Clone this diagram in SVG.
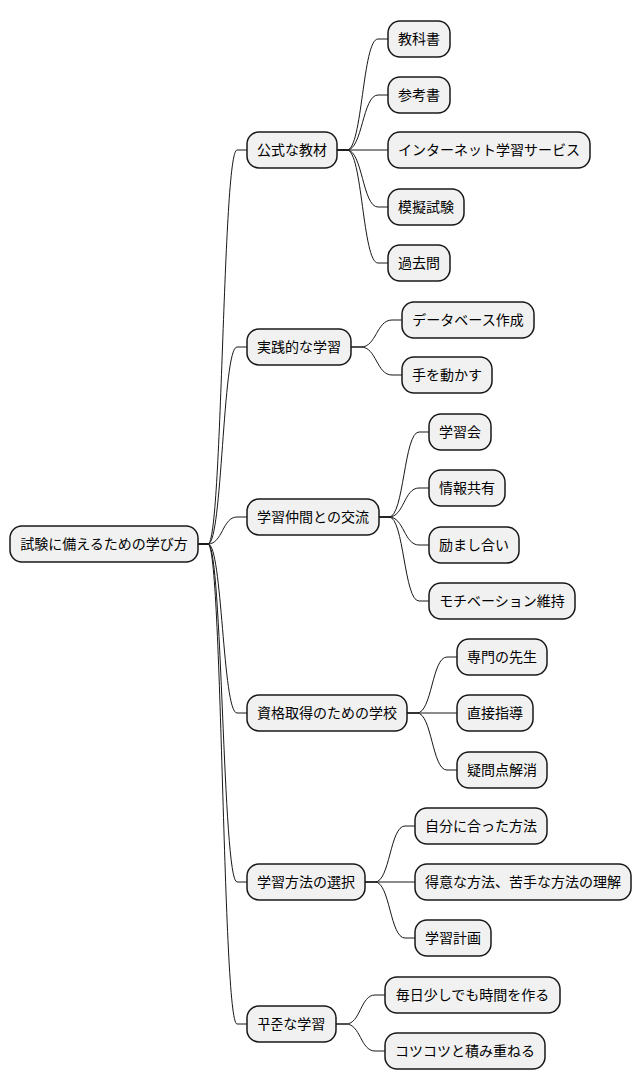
<svg xmlns="http://www.w3.org/2000/svg" width="642" height="1090" viewBox="0 0 642 1090">
<style>
.n rect{fill:#F1F1F1;stroke:#181818;stroke-width:1.5}
.n text{font-family:"Noto Sans CJK JP","Noto Sans CJK KR",sans-serif;font-size:14px;fill:#000;text-anchor:middle}
#connectors path{fill:none;stroke:#181818;stroke-width:1}
</style>
<rect width="642" height="1090" fill="#FFFFFF"/>
<g id="connectors">
<path d="M198,544 L208,544 C222.5,544 222.5,150 237,150 L247,150"/>
<path d="M198,544 L208,544 C222.5,544 222.5,347 237,347 L247,347"/>
<path d="M198,544 L208,544 C222.5,544 222.5,517 237,517 L247,517"/>
<path d="M198,544 L208,544 C222.5,544 222.5,713 237,713 L247,713"/>
<path d="M198,544 L208,544 C222.5,544 222.5,882 237,882 L247,882"/>
<path d="M198,544 L208,544 C222.5,544 222.5,1024 237,1024 L247,1024"/>
<path d="M337,150 L347,150 C362.5,150 362.5,39 378,39 L388,39"/>
<path d="M337,150 L347,150 C362.5,150 362.5,95 378,95 L388,95"/>
<path d="M337,150 L388,150"/>
<path d="M337,150 L347,150 C362.5,150 362.5,207 378,207 L388,207"/>
<path d="M337,150 L347,150 C362.5,150 362.5,263 378,263 L388,263"/>
<path d="M351,347 L361,347 C376.5,347 376.5,320 392,320 L402,320"/>
<path d="M351,347 L361,347 C376.5,347 376.5,375 392,375 L402,375"/>
<path d="M379,517 L389,517 C404,517 404,432 419,432 L429,432"/>
<path d="M379,517 L389,517 C404,517 404,488 419,488 L429,488"/>
<path d="M379,517 L389,517 C404,517 404,545 419,545 L429,545"/>
<path d="M379,517 L389,517 C404,517 404,601 419,601 L429,601"/>
<path d="M407,713 L417,713 C432,713 432,657 447,657 L457,657"/>
<path d="M407,713 L457,713"/>
<path d="M407,713 L417,713 C432,713 432,770 447,770 L457,770"/>
<path d="M365,882 L375,882 C390,882 390,826 405,826 L415,826"/>
<path d="M365,882 L415,882"/>
<path d="M365,882 L375,882 C390,882 390,938 405,938 L415,938"/>
<path d="M336,1024 L346,1024 C360.5,1024 360.5,995 375,995 L385,995"/>
<path d="M336,1024 L346,1024 C360.5,1024 360.5,1051 375,1051 L385,1051"/>
</g>
<g id="root" class="n"><rect x="10" y="526" width="188" height="36" rx="12"/><text x="104" y="549">試験に備えるための学び方</text></g>
<g id="n1" class="n"><rect x="247" y="132" width="90" height="36" rx="12"/><text x="292" y="155">公式な教材</text></g>
<g id="n1a" class="n"><rect x="388" y="21" width="62" height="36" rx="12"/><text x="419" y="44">教科書</text></g>
<g id="n1b" class="n"><rect x="388" y="77" width="62" height="36" rx="12"/><text x="419" y="100">参考書</text></g>
<g id="n1c" class="n"><rect x="388" y="132" width="202" height="36" rx="12"/><text x="489" y="155">インターネット学習サービス</text></g>
<g id="n1d" class="n"><rect x="388" y="189" width="76" height="36" rx="12"/><text x="426" y="212">模擬試験</text></g>
<g id="n1e" class="n"><rect x="388" y="245" width="62" height="36" rx="12"/><text x="419" y="268">過去問</text></g>
<g id="n2" class="n"><rect x="247" y="329" width="104" height="36" rx="12"/><text x="299" y="352">実践的な学習</text></g>
<g id="n2a" class="n"><rect x="402" y="302" width="132" height="36" rx="12"/><text x="468" y="325">データベース作成</text></g>
<g id="n2b" class="n"><rect x="402" y="357" width="90" height="36" rx="12"/><text x="447" y="380">手を動かす</text></g>
<g id="n3" class="n"><rect x="247" y="499" width="132" height="36" rx="12"/><text x="313" y="522">学習仲間との交流</text></g>
<g id="n3a" class="n"><rect x="429" y="414" width="62" height="36" rx="12"/><text x="460" y="437">学習会</text></g>
<g id="n3b" class="n"><rect x="429" y="470" width="76" height="36" rx="12"/><text x="467" y="493">情報共有</text></g>
<g id="n3c" class="n"><rect x="429" y="527" width="90" height="36" rx="12"/><text x="474" y="550">励まし合い</text></g>
<g id="n3d" class="n"><rect x="429" y="583" width="146" height="36" rx="12"/><text x="502" y="606">モチベーション維持</text></g>
<g id="n4" class="n"><rect x="247" y="695" width="160" height="36" rx="12"/><text x="327" y="718">資格取得のための学校</text></g>
<g id="n4a" class="n"><rect x="457" y="639" width="90" height="36" rx="12"/><text x="502" y="662">専門の先生</text></g>
<g id="n4b" class="n"><rect x="457" y="695" width="76" height="36" rx="12"/><text x="495" y="718">直接指導</text></g>
<g id="n4c" class="n"><rect x="457" y="752" width="90" height="36" rx="12"/><text x="502" y="775">疑問点解消</text></g>
<g id="n5" class="n"><rect x="247" y="864" width="118" height="36" rx="12"/><text x="306" y="887">学習方法の選択</text></g>
<g id="n5a" class="n"><rect x="415" y="808" width="132" height="36" rx="12"/><text x="481" y="831">自分に合った方法</text></g>
<g id="n5b" class="n"><rect x="415" y="864" width="216" height="36" rx="12"/><text x="523" y="887">得意な方法、苦手な方法の理解</text></g>
<g id="n5c" class="n"><rect x="415" y="920" width="76" height="36" rx="12"/><text x="453" y="943">学習計画</text></g>
<g id="n6" class="n"><rect x="247" y="1006" width="89" height="36" rx="12"/><text x="291.5" y="1029">꾸준な学習</text></g>
<g id="n6a" class="n"><rect x="385" y="977" width="175" height="36" rx="12"/><text x="472.5" y="1000">毎日少しでも時間を作る</text></g>
<g id="n6b" class="n"><rect x="385" y="1033" width="160" height="36" rx="12"/><text x="465" y="1056">コツコツと積み重ねる</text></g>
</svg>
